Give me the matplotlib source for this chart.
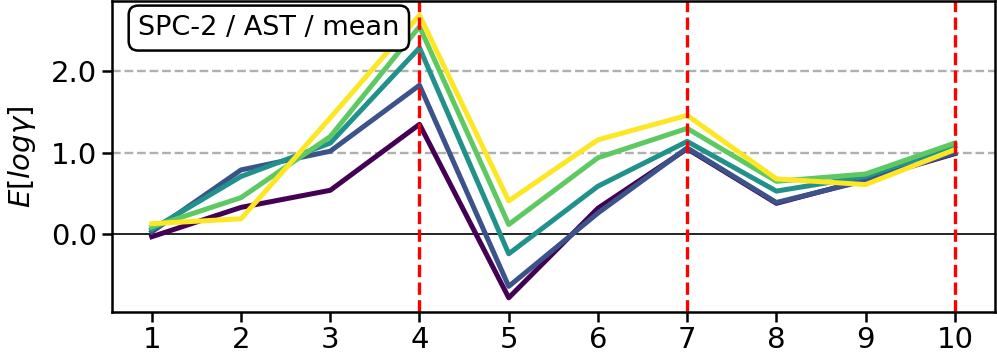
import numpy as np
import matplotlib
matplotlib.use("Agg")
import matplotlib.pyplot as plt

# x positions
steps = [1, 2, 3, 4, 5, 6, 7, 8, 9, 10]

# mean E[log gamma] per curve (dark -> light)
s0 = [-0.03, 0.33, 0.54, 1.35, -0.78, 0.32, 1.05, 0.38, 0.67, 0.99]
s1 = [0.03, 0.79, 1.02, 1.83, -0.64, 0.26, 1.06, 0.39, 0.66, 1.00]
s2 = [0.06, 0.71, 1.12, 2.29, -0.24, 0.59, 1.14, 0.53, 0.71, 1.08]
s3 = [0.09, 0.45, 1.20, 2.55, 0.12, 0.94, 1.30, 0.65, 0.74, 1.12]
s4 = [0.13, 0.19, 1.43, 2.69, 0.41, 1.16, 1.46, 0.68, 0.61, 1.04]
series = [s0, s1, s2, s3, s4]

vlines = [4, 7, 10]
yticks = [0.0, 1.0, 2.0]

fig = plt.figure(figsize=(9.97, 3.61), dpi=100)
ax = fig.add_axes([0.112, 0.136, 0.886, 0.861])

colors = plt.cm.viridis(np.linspace(0, 1, len(series)))
for s, c in zip(series, colors):
    ax.plot(steps, s, color=c, linewidth=3.6)

ax.axhline(0, color='black', linewidth=1.2, zorder=0)
for y in [1.0, 2.0]:
    ax.axhline(y, color='#b0b0b0', linestyle='--', linewidth=1.7, zorder=0)
for x in vlines:
    ax.axvline(x, color='red', linestyle='--', linewidth=2.4)

ax.set_xticks(steps)
ax.set_yticks(yticks)
ax.set_yticklabels(['%.1f' % v for v in yticks])
ax.tick_params(labelsize=21, length=7, width=1.8)
for sp in ax.spines.values():
    sp.set_linewidth(1.8)
ax.set_ylabel(r'$E[log\gamma]$', fontsize=21, labelpad=9)

ax.text(0.03, 0.955, 'SPC-2 / AST / mean', transform=ax.transAxes,
        fontsize=19.5, ha='left', va='top',
        bbox=dict(boxstyle='round,pad=0.35', facecolor='white', edgecolor='black', linewidth=1.8))

fig.savefig('out.png', dpi=100)
